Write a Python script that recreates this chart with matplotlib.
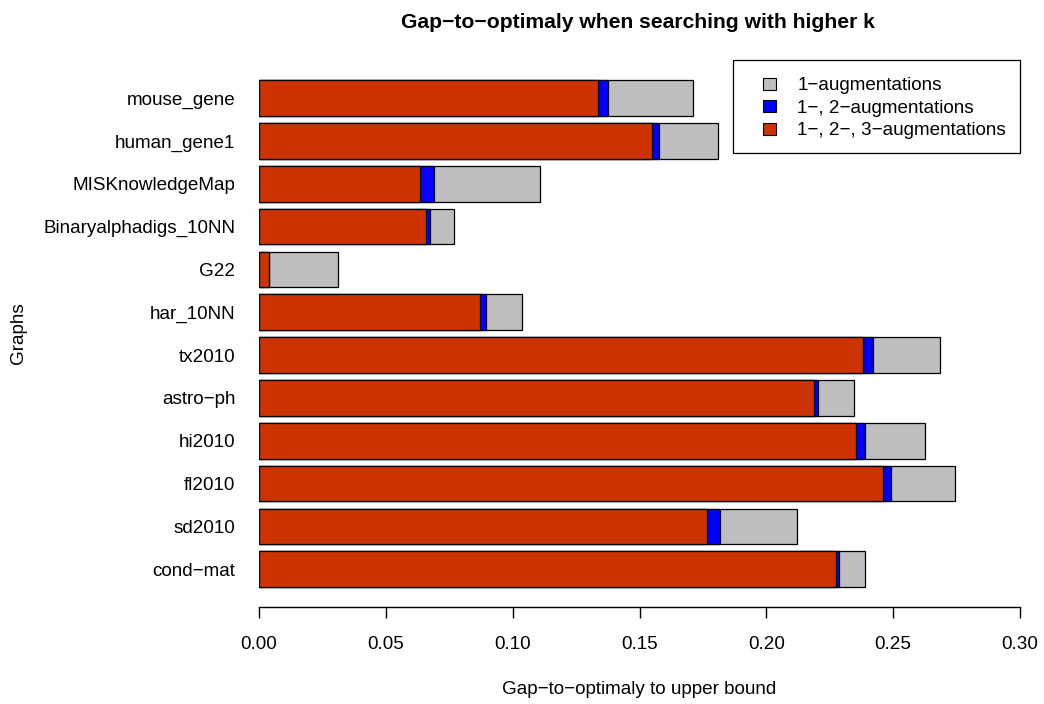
import matplotlib.pyplot as plt
import matplotlib.patches as mpatches
from matplotlib.legend_handler import HandlerPatch
import numpy as np

plt.rcParams['font.family'] = ['Liberation Sans', 'DejaVu Sans']

# graphs, listed from bottom to top as drawn
graphs = ['cond−mat', 'sd2010', 'fl2010', 'hi2010', 'astro−ph', 'tx2010',
          'har_10NN', 'G22', 'Binaryalphadigs_10NN', 'MISKnowledgeMap',
          'human_gene1', 'mouse_gene']

aug1 = [0.2389, 0.2120, 0.2745, 0.2626, 0.2345, 0.2685,
        0.1038, 0.0311, 0.0770, 0.1109, 0.1810, 0.1710]
aug12 = [0.2285, 0.1816, 0.2493, 0.2387, 0.2204, 0.2421,
         0.0895, 0.0041, 0.0674, 0.0689, 0.1577, 0.1375]
aug123 = [0.2274, 0.1767, 0.2461, 0.2352, 0.2187, 0.2383,
          0.0872, 0.0041, 0.0657, 0.0636, 0.1550, 0.1335]

legend_labels = ['1−augmentations', '1−, 2−augmentations', '1−, 2−, 3−augmentations']
colors = ['#BEBEBE', '#0000FF', '#CC3300']


# small square sitting at the right end of the handle box, like R's legend()
def square(legend, orig_handle, xdescent, ydescent, width, height, fontsize):
    w = 0.74 * fontsize
    h = 0.63 * fontsize
    return mpatches.Rectangle((-xdescent + width - w, -ydescent + (height - h) / 2), w, h)


fig = plt.figure(figsize=(10.44, 7.04), dpi=100)
ax = fig.add_axes([259 / 1044, 1 - 607 / 704, 761 / 1044, 547 / 704])

y = 0.7 + 1.2 * np.arange(len(graphs))
for vals, c in zip([aug1, aug12, aug123], colors):
    ax.barh(y, vals, height=1.0, color=c, edgecolor='black', linewidth=0.9)

ax.set_xlim(0, 0.30)
ax.set_ylim(-0.36, 14.97)
ax.set_xticks(np.arange(0, 0.301, 0.05))
ax.set_xticklabels(['%.2f' % v for v in np.arange(0, 0.301, 0.05)], fontsize=13.6)
ax.set_yticks(y)
ax.set_yticklabels(graphs, fontsize=13.6)
ax.tick_params(axis='y', length=0, pad=17)
ax.tick_params(axis='x', length=8, width=1, pad=13)
for s in ['left', 'right', 'top']:
    ax.spines[s].set_visible(False)
ax.spines['bottom'].set_linewidth(1)

ax.set_xlabel('Gap−to−optimaly to upper bound', fontsize=13.6, labelpad=20)
fig.text(18 / 1044, 1 - 333 / 704, 'Graphs', rotation=90, fontsize=13.6,
         ha='center', va='center')
fig.text(638 / 1044, 1 - 22 / 704, 'Gap−to−optimaly when searching with higher k',
         fontsize=15.2, fontweight='bold', ha='center', va='center')

handles = [mpatches.Patch(facecolor=c, edgecolor='black', linewidth=0.8) for c in colors]
leg = ax.legend(handles, legend_labels, loc='upper right', bbox_to_anchor=(1, 1),
                borderaxespad=0, fancybox=False, edgecolor='black', framealpha=1,
                fontsize=13.6, handlelength=1.55, handleheight=1.2, handletextpad=1.1,
                labelspacing=0.13, borderpad=0.74,
                handler_map={mpatches.Patch: HandlerPatch(patch_func=square)})
leg.get_frame().set_linewidth(0.9)

fig.savefig('out.png', dpi=100)
